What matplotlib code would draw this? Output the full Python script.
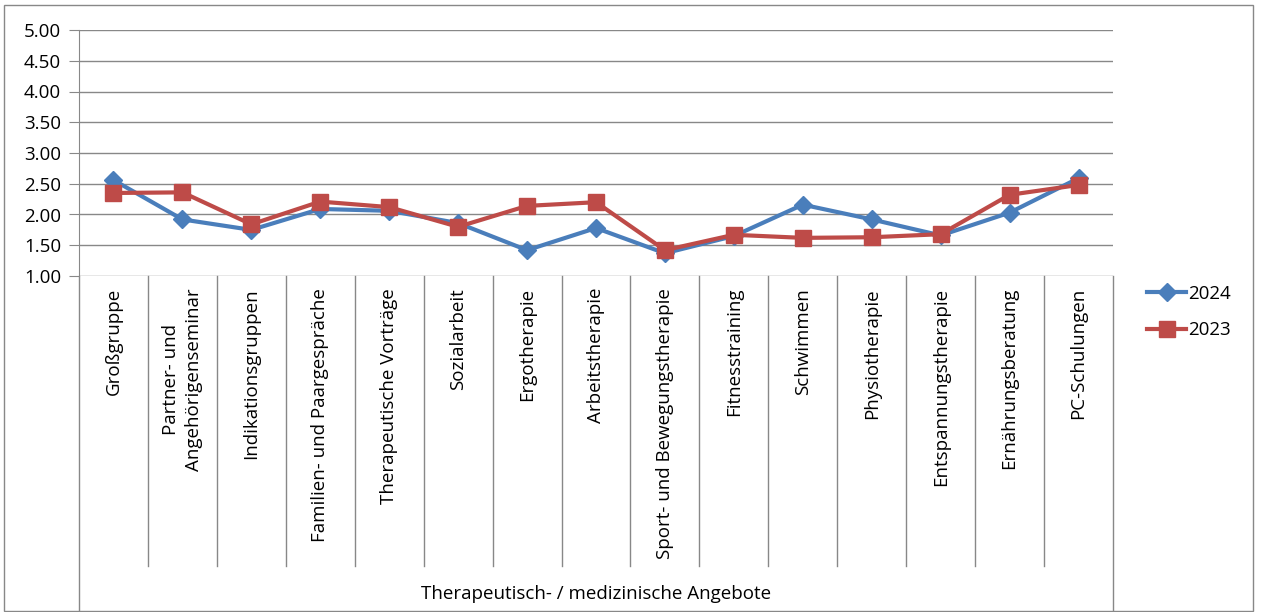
import matplotlib.pyplot as plt
from matplotlib.patches import Rectangle
from matplotlib.lines import Line2D

plt.rcParams['font.family'] = ['Open Sans', 'DejaVu Sans']

categories = ['Großgruppe', 'Partner- und\nAngehörigenseminar', 'Indikationsgruppen',
              'Familien- und Paargespräche', 'Therapeutische Vorträge', 'Sozialarbeit',
              'Ergotherapie', 'Arbeitstherapie', 'Sport- und Bewegungstherapie',
              'Fitnesstraining', 'Schwimmen', 'Physiotherapie', 'Entspannungstherapie',
              'Ernährungsberatung', 'PC-Schulungen']
values_2024 = [2.56, 1.92, 1.75, 2.09, 2.06, 1.86, 1.42, 1.78, 1.37, 1.65, 2.16, 1.92, 1.66, 2.03, 2.59]
values_2023 = [2.35, 2.36, 1.84, 2.21, 2.12, 1.80, 2.14, 2.20, 1.42, 1.67, 1.62, 1.63, 1.68, 2.32, 2.48]
group_label = 'Therapeutisch- / medizinische Angebote'
yticks = [1.0, 1.5, 2.0, 2.5, 3.0, 3.5, 4.0, 4.5, 5.0]

blue = '#4A7EBB'
red = '#BE4B48'
grey = '#888888'
fs = 13.5

W, H = 1261, 612
fig = plt.figure(figsize=(W / 100, H / 100), dpi=100)
ax = fig.add_axes([79 / W, 1 - 276 / H, (1113 - 79) / W, (276 - 30) / H])

x = list(range(len(categories)))
ax.plot(x, values_2024, color=blue, lw=3, marker='D', ms=9, label='2024', zorder=3)
ax.plot(x, values_2023, color=red, lw=3, marker='s', ms=11, label='2023', zorder=4)

ax.set_xlim(-0.5, len(categories) - 0.5)
ax.set_ylim(1, 5)
ax.set_yticks(yticks)
ax.set_yticklabels(['%.2f' % v for v in yticks], fontsize=fs)
ax.yaxis.grid(True, color=grey, lw=1)
ax.set_axisbelow(True)
for s in ['top', 'right', 'bottom']:
    ax.spines[s].set_visible(False)
ax.spines['left'].set_color(grey)
ax.tick_params(axis='y', length=7, color=grey, pad=6)
ax.set_xticks([])

# category axis: separators, labels and group label
trans = ax.get_xaxis_transform()
ah = 246.0
for i in range(len(categories) + 1):
    b = i - 0.5
    bottom = -334 / ah if i in (0, len(categories)) else -290 / ah
    ax.plot([b, b], [0, bottom], transform=trans, color=grey, lw=1, clip_on=False)
for i, c in enumerate(categories):
    ax.text(i, -12 / ah, c, transform=trans, rotation=90, ha='center', va='top',
            multialignment='center', fontsize=fs, linespacing=1.35)
ax.text((len(categories) - 1) / 2, -318 / ah, group_label, transform=trans,
        ha='center', va='center', fontsize=fs)

handles = [Line2D([], [], color=blue, lw=3, marker='D', ms=9),
           Line2D([], [], color=red, lw=3, marker='s', ms=11)]
fig.legend(handles, ['2024', '2023'], loc='center left', bbox_to_anchor=(1130 / W, 1 - 312 / H),
           frameon=False, fontsize=fs, handlelength=2.1, handletextpad=0.1, labelspacing=1.0)

fig.patches.append(Rectangle((4 / W, 1 / H), 1249 / W, 606 / H, transform=fig.transFigure,
                             fill=False, edgecolor=grey, lw=1))

fig.savefig('out.png', dpi=100)
